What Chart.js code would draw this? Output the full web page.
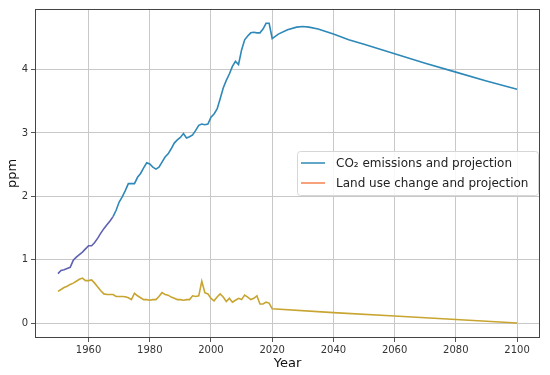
<!DOCTYPE html>
<html>
<head>
<meta charset="utf-8">
<script src="https://cdn.jsdelivr.net/npm/chart.js@4.4.1/dist/chart.umd.min.js"></script>
<style>
  html, body { margin: 0; padding: 0; background: #fff; }
  #wrap { width: 550px; height: 375px; }
</style>
</head>
<body>
<div id="wrap"><canvas id="chart" width="550" height="375"></canvas></div>
<script>
// historical years 1950..2020
const histYears = [
    1950, 1951, 1952, 1953, 1954, 1955, 1956, 1957, 1958, 1959,
    1960, 1961, 1962, 1963, 1964, 1965, 1966, 1967, 1968, 1969,
    1970, 1971, 1972, 1973, 1974, 1975, 1976, 1977, 1978, 1979,
    1980, 1981, 1982, 1983, 1984, 1985, 1986, 1987, 1988, 1989,
    1990, 1991, 1992, 1993, 1994, 1995, 1996, 1997, 1998, 1999,
    2000, 2001, 2002, 2003, 2004, 2005, 2006, 2007, 2008, 2009,
    2010, 2011, 2012, 2013, 2014, 2015, 2016, 2017, 2018, 2019,
    2020
];

// CO2 emissions (ppm)
const co2Hist = [
    0.78, 0.83, 0.84, 0.86, 0.88, 0.99, 1.04, 1.08, 1.12, 1.17,
    1.22, 1.22, 1.27, 1.34, 1.42, 1.49, 1.55, 1.61, 1.68, 1.78,
    1.91, 1.99, 2.09, 2.20, 2.20, 2.20, 2.30, 2.36, 2.45, 2.53,
    2.51, 2.46, 2.43, 2.46, 2.54, 2.62, 2.67, 2.75, 2.84, 2.89,
    2.93, 2.99, 2.92, 2.94, 2.97, 3.04, 3.12, 3.14, 3.13, 3.14,
    3.25, 3.30, 3.38, 3.54, 3.71, 3.83, 3.93, 4.05, 4.13, 4.08,
    4.31, 4.47, 4.53, 4.58, 4.59, 4.58, 4.58, 4.64, 4.73, 4.73,
    4.49
];

// land use change (ppm)
const landHist = [
    0.50, 0.53, 0.56, 0.58, 0.61, 0.63, 0.66, 0.69, 0.71, 0.67,
    0.67, 0.68, 0.63, 0.57, 0.51, 0.46, 0.45, 0.45, 0.45, 0.42,
    0.42, 0.42, 0.415, 0.40, 0.37, 0.47, 0.43, 0.40, 0.37, 0.37,
    0.36, 0.37, 0.37, 0.42, 0.48, 0.45, 0.44, 0.41, 0.39, 0.37,
    0.37, 0.36, 0.37, 0.37, 0.43, 0.42, 0.43, 0.66, 0.48, 0.46,
    0.39, 0.35, 0.41, 0.46, 0.41, 0.34, 0.39, 0.33, 0.36, 0.39,
    0.37, 0.44, 0.41, 0.37, 0.39, 0.43, 0.30, 0.30, 0.33, 0.315,
    0.225
];

// projections
const co2ProjYears = [2022, 2025, 2028, 2030, 2032, 2035, 2040, 2045, 2050, 2060, 2070, 2080, 2090, 2100];
const co2Proj      = [4.56, 4.63, 4.67, 4.68, 4.67, 4.64, 4.56, 4.47, 4.40, 4.25, 4.10, 3.96, 3.82, 3.69];

const landProjYears = [2040, 2060, 2080, 2100];
const landProj      = [0.165, 0.11, 0.055, 0.0];

const xTicks = [1960, 1980, 2000, 2020, 2040, 2060, 2080, 2100];
const yTicks = [0, 1, 2, 3, 4];

const CO2_COLOR = '#2e88b8';
const CO2_EARLY = '#5f62b0';
const LAND_COLOR = '#c8a530';
const LAND_LEGEND = '#f6834f';

const toPoints = (xs, ys) => xs.map((x, i) => ({ x: x, y: ys[i] }));

const co2Points = toPoints(histYears, co2Hist).concat(toPoints(co2ProjYears, co2Proj));
const landPoints = toPoints(histYears, landHist).concat(toPoints(landProjYears, landProj));

// frame + legend drawn inside the plot area
const framePlugin = {
    id: 'frame',
    afterDatasetsDraw(chart) {
        const { ctx, chartArea: a } = chart;
        ctx.save();
        ctx.strokeStyle = '#444';
        ctx.lineWidth = 1;
        ctx.strokeRect(a.left + 0.5, a.top + 0.5, a.right - a.left - 1, a.bottom - a.top - 1);

        // legend box
        const bx = 297, by = 151, bw = 241, bh = 44;
        ctx.fillStyle = 'rgba(255,255,255,0.85)';
        ctx.strokeStyle = '#d6d6d6';
        ctx.beginPath();
        ctx.roundRect(bx + 0.5, by + 0.5, bw, bh, 3);
        ctx.fill();
        ctx.stroke();

        const rows = [
            { color: CO2_COLOR, text: 'CO\u2082 emissions and projection', y: 163 },
            { color: LAND_LEGEND, text: 'Land use change and projection', y: 183 }
        ];
        ctx.font = '12px "DejaVu Sans"';
        ctx.textBaseline = 'middle';
        rows.forEach(r => {
            ctx.strokeStyle = r.color;
            ctx.lineWidth = 1.5;
            ctx.beginPath();
            ctx.moveTo(301, r.y);
            ctx.lineTo(325, r.y);
            ctx.stroke();
            ctx.fillStyle = '#222';
            ctx.fillText(r.text, 336, r.y + 1);
        });
        ctx.restore();
    }
};

new Chart(document.getElementById('chart'), {
    type: 'line',
    data: {
        datasets: [
            {
                label: 'CO\u2082 emissions and projection',
                data: co2Points,
                borderColor: CO2_COLOR,
                borderWidth: 1.6,
                pointRadius: 0,
                tension: 0,
                segment: {
                    borderColor: c => (c.p1.parsed.x <= 1968 ? CO2_EARLY : CO2_COLOR)
                }
            },
            {
                label: 'Land use change and projection',
                data: landPoints,
                borderColor: LAND_COLOR,
                borderWidth: 1.6,
                pointRadius: 0,
                tension: 0
            }
        ]
    },
    options: {
        responsive: false,
        animation: false,
        layout: { padding: { top: 8, right: 10, left: 0, bottom: 0 } },
        plugins: {
            legend: { display: false },
            tooltip: { enabled: false }
        },
        scales: {
            x: {
                type: 'linear',
                min: 1942.5,
                max: 2107.5,
                afterBuildTicks: s => { s.ticks = xTicks.map(v => ({ value: v })); },
                afterFit: s => { s.height = 37; },
                grid: { color: '#c8c8c8', tickColor: '#555', tickLength: 4 },
                border: { display: false },
                ticks: {
                    color: '#333',
                    font: { family: 'DejaVu Sans', size: 10 },
                    padding: 2,
                    maxRotation: 0,
                    callback: v => String(v)
                },
                title: {
                    display: true,
                    text: 'Year',
                    color: '#111',
                    font: { family: 'DejaVu Sans', size: 13 },
                    padding: { top: 0, bottom: 4 }
                }
            },
            y: {
                min: -0.236,
                max: 4.956,
                afterBuildTicks: s => { s.ticks = yTicks.map(v => ({ value: v })); },
                afterFit: s => { s.width = 35; },
                grid: { color: '#c8c8c8', tickColor: '#555', tickLength: 4 },
                border: { display: false },
                ticks: {
                    color: '#333',
                    font: { family: 'DejaVu Sans', size: 10 },
                    padding: 3,
                    callback: v => String(v)
                },
                title: {
                    display: true,
                    text: 'ppm',
                    color: '#111',
                    font: { family: 'DejaVu Sans', size: 13 },
                    padding: { top: 5, bottom: 0 }
                }
            }
        }
    },
    plugins: [framePlugin]
});
</script>
</body>
</html>
